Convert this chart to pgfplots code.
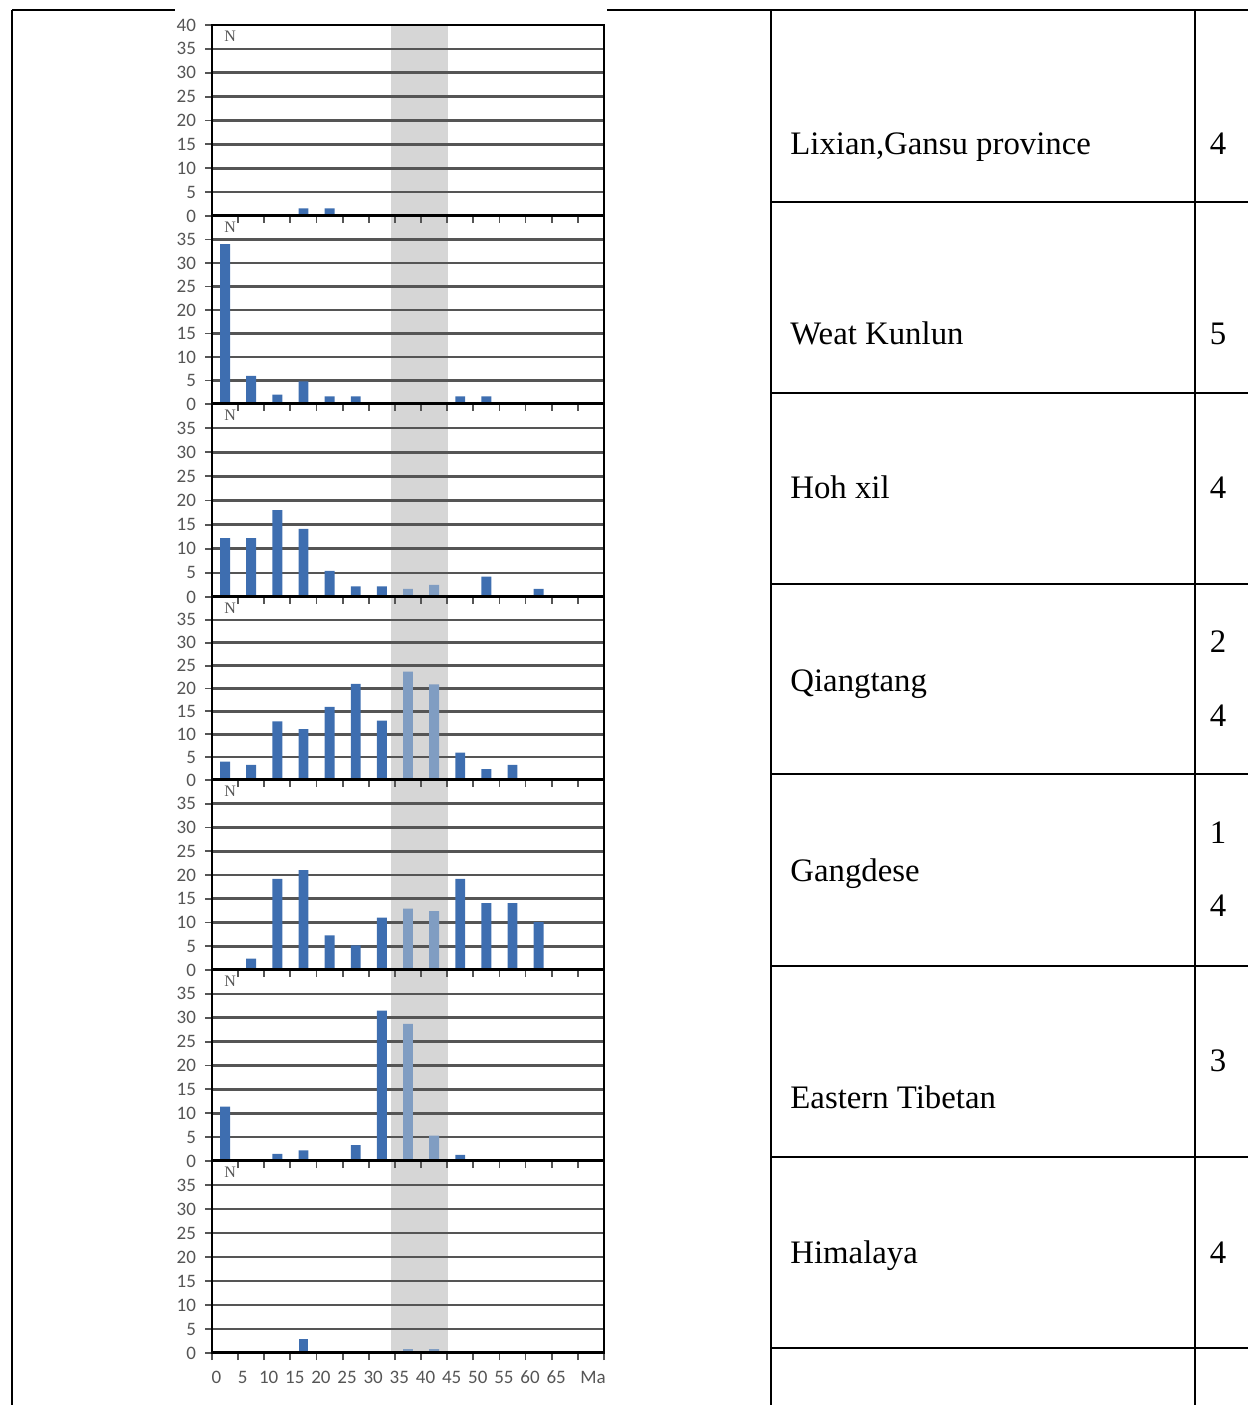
\documentclass[border=0pt]{standalone}
\usepackage{fontspec}
\usepackage{pgfplots}
\pgfplotsset{compat=1.18}
\setmainfont{Liberation Serif}
\newfontfamily\carlito{Carlito}
\newfontfamily\libserif{Liberation Serif}
\definecolor{barblue}{RGB}{62,110,176}
\definecolor{bandblue}{RGB}{128,157,194}
\definecolor{bandgray}{RGB}{214,214,214}
\definecolor{gridgray}{RGB}{85,85,85}
\definecolor{labelgray}{RGB}{85,85,85}
\tikzset{nlab/.style={font=\libserif\fontsize{8}{9}\selectfont, text=labelgray}}
\pgfplotsset{
  stackax/.style={
    scale only axis, width=196pt,
    xmin=0, xmax=75, ymin=0, ymax=40,
    anchor=south west,
    xtick={0,5,...,75}, xticklabels={},
    ytick={0,5,...,35},
    ymajorgrids, grid style={gridgray, line width=1.3pt},
    tick align=outside, tick pos=left, major tick length=3.5pt,
    every tick/.style={gridgray, line width=0.9pt},
    axis line style={black, line width=1.3pt},
    yticklabel style={font=\carlito\fontsize{9.5}{10}\selectfont, text=labelgray, xshift=-1pt},
    /pgf/number format/assume math mode=true,
  },
}
\newcommand{\bottomline}{\draw[black, line width=1.9pt] (rel axis cs:0,0) -- (rel axis cs:1,0);}
\newcommand{\Nlabel}{\node[nlab, yshift=-5.5pt] at (rel axis cs:0.046,1) {N};}
\begin{document}
\begin{tikzpicture}
\path[use as bounding box] (0,0) rectangle (624pt,702.5pt);
% shaded 35-45 Ma band behind all panels
\fill[bandgray] (195.3pt,26pt) rectangle (224.2pt,690.5pt);

% Lixian
\begin{axis}[stackax, at={(106pt,594.5pt)}, height=95.5pt, ytick={0,5,...,40}]
\addplot[ybar, bar shift=0pt, bar width=1.9, fill=barblue, draw=none] coordinates {(17.5,1.6) (22.5,1.6)};
\bottomline
\Nlabel
\end{axis}

% Weat Kunlun
\begin{axis}[stackax, at={(106pt,500.5pt)}, height=94pt]
\addplot[ybar, bar shift=0pt, bar width=1.9, fill=barblue, draw=none] coordinates {(2.5,34) (7.5,6) (12.5,2) (17.5,4.8) (22.5,1.6) (27.5,1.6) (47.5,1.6) (52.5,1.6)};
\bottomline
\Nlabel
\end{axis}

% Hoh xil
\begin{axis}[stackax, at={(106pt,404pt)}, height=96.5pt]
\addplot[ybar, bar shift=0pt, bar width=1.9, fill=barblue, draw=none] coordinates {(2.5,12.2) (7.5,12.2) (12.5,18) (17.5,14.1) (22.5,5.4) (27.5,2.2) (32.5,2.2) (52.5,4.2) (62.5,1.7)};
\addplot[ybar, bar shift=0pt, bar width=1.9, fill=bandblue, draw=none] coordinates {(37.5,1.7) (42.5,2.5)};
\bottomline
\Nlabel
\end{axis}

% Qiangtang
\begin{axis}[stackax, at={(106pt,312.5pt)}, height=91.5pt]
\addplot[ybar, bar shift=0pt, bar width=1.9, fill=barblue, draw=none] coordinates {(2.5,4.0) (7.5,3.3) (12.5,12.8) (17.5,11.1) (22.5,16.0) (27.5,21.0) (32.5,13.0) (47.5,6.0) (52.5,2.4) (57.5,3.3)};
\addplot[ybar, bar shift=0pt, bar width=1.9, fill=bandblue, draw=none] coordinates {(37.5,23.7) (42.5,20.9)};
\bottomline
\Nlabel
\end{axis}

% Gangdese
\begin{axis}[stackax, at={(106pt,217.5pt)}, height=95pt]
\addplot[ybar, bar shift=0pt, bar width=1.9, fill=barblue, draw=none] coordinates {(7.5,2.4) (12.5,19.2) (17.5,21.0) (22.5,7.3) (27.5,5.2) (32.5,11.0) (47.5,19.2) (52.5,14.1) (57.5,14.1) (62.5,10.1)};
\addplot[ybar, bar shift=0pt, bar width=1.9, fill=bandblue, draw=none] coordinates {(37.5,12.9) (42.5,12.4)};
\bottomline
\Nlabel
\end{axis}

% Eastern Tibetan
\begin{axis}[stackax, at={(106pt,122pt)}, height=95.5pt]
\addplot[ybar, bar shift=0pt, bar width=1.9, fill=barblue, draw=none] coordinates {(2.5,11.4) (12.5,1.5) (17.5,2.2) (27.5,3.3) (32.5,31.5) (47.5,1.3)};
\addplot[ybar, bar shift=0pt, bar width=1.9, fill=bandblue, draw=none] coordinates {(37.5,28.7) (42.5,5.3)};
\bottomline
\Nlabel
\end{axis}

% Himalaya
\begin{axis}[stackax, at={(106pt,26pt)}, height=96pt,
  extra x ticks={0.85,5.85,10.85,15.85,20.85,25.85,30.85,35.85,40.85,45.85,50.85,55.85,60.85,65.85,72.9},
  extra x tick labels={0,5,10,15,20,25,30,35,40,45,50,55,60,65,Ma},
  extra x tick style={major tick length=0pt, xticklabel style={font=\carlito\fontsize{9.5}{10}\selectfont, text=labelgray, yshift=-5.5pt}}]
\addplot[ybar, bar shift=0pt, bar width=1.9, fill=barblue, draw=none] coordinates {(17.5,3.0)};
\addplot[ybar, bar shift=0pt, bar width=1.9, fill=bandblue, draw=none] coordinates {(37.5,0.8) (42.5,0.8)};
\bottomline
\Nlabel
\end{axis}

% table frame
\begin{scope}[line width=1.2pt, black]
\draw (6pt,697.5pt) -- (87.5pt,697.5pt);
\draw (303.5pt,697.5pt) -- (624pt,697.5pt);
\draw (6pt,697.5pt) -- (6pt,0);
\draw (385.5pt,697.5pt) -- (385.5pt,0);
\draw (597.5pt,697.5pt) -- (597.5pt,0);
\foreach \yy in {601.5,506,410.5,315.5,219.5,124,28.5}
  \draw (385.5pt,\yy pt) -- (624pt,\yy pt);
\end{scope}

\begin{scope}[every node/.style={font=\fontsize{16.4}{19}\selectfont, inner sep=0pt}]
\node[anchor=base west] at (395pt,625pt) {Lixian,Gansu province};
\node[anchor=base west] at (395pt,530pt) {Weat Kunlun};
\node[anchor=base west] at (395pt,453pt) {Hoh xil};
\node[anchor=base west] at (395pt,356.5pt) {Qiangtang};
\node[anchor=base west] at (395pt,261.5pt) {Gangdese};
\node[anchor=base west] at (395pt,148pt) {Eastern Tibetan};
\node[anchor=base west] at (395pt,70.5pt) {Himalaya};
\node[anchor=base] at (609pt,625pt) {4};
\node[anchor=base] at (609pt,530pt) {5};
\node[anchor=base] at (609pt,453pt) {4};
\node[anchor=base] at (609pt,376pt) {2};
\node[anchor=base] at (609pt,339pt) {4};
\node[anchor=base] at (609pt,280.5pt) {1};
\node[anchor=base] at (609pt,244pt) {4};
\node[anchor=base] at (609pt,166.5pt) {3};
\node[anchor=base] at (609pt,70.5pt) {4};
\end{scope}
\end{tikzpicture}
\end{document}
